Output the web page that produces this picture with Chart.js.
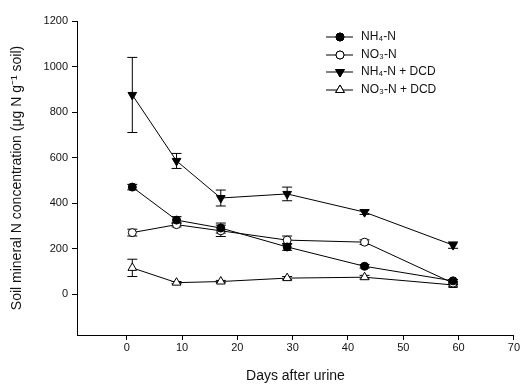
<!DOCTYPE html>
<html>
<head>
<meta charset="utf-8">
<script src="https://cdn.jsdelivr.net/npm/chart.js@4"></script>
<style>
  html, body { margin: 0; padding: 0; background: #fff; }
  #wrap { width: 521px; height: 385px; }
</style>
</head>
<body>
<div id="wrap"><canvas id="chart" width="521" height="385"></canvas></div>
<script>
// days after urine
const days = [1, 9, 17, 29, 43, 59];

const nh4 = [470, 325, 290, 207, 122, 58];
const nh4Err = [12, 15, 22, 15, 8, 6];
const no3 = [270, 305, 278, 237, 228, 48];
const no3Err = [15, 10, 25, 18, 10, 6];
const nh4Dcd = [875, 585, 422, 440, 360, 215];
const nh4DcdErr = [165, 33, 35, 30, 10, 14];
const no3Dcd = [115, 50, 55, 70, 74, 40];
const no3DcdErr = [38, 5, 5, 7, 8, 5];

const xTicks = [0, 10, 20, 30, 40, 50, 60, 70];
const yTicks = [0, 200, 400, 600, 800, 1000, 1200];

const labels = ["NH₄-N", "NO₃-N", "NH₄-N + DCD", "NO₃-N + DCD"];

function toPoints(ys) {
  return days.map((d, i) => ({ x: d, y: ys[i] }));
}

const series = [
  { label: labels[0], data: nh4, err: nh4Err, style: "circle", fill: "#000", rot: 0, r: 4 },
  { label: labels[1], data: no3, err: no3Err, style: "circle", fill: "#fff", rot: 0, r: 4 },
  { label: labels[2], data: nh4Dcd, err: nh4DcdErr, style: "triangle", fill: "#000", rot: 180, r: 5 },
  { label: labels[3], data: no3Dcd, err: no3DcdErr, style: "triangle", fill: "#fff", rot: 0, r: 5 },
];

// error bars drawn before the points
const errorBars = {
  id: "errorBars",
  beforeDatasetsDraw(chart) {
    const ctx = chart.ctx;
    const xs = chart.scales.x, ys = chart.scales.y;
    ctx.save();
    ctx.strokeStyle = "#000";
    ctx.lineWidth = 1;
    series.forEach((s) => {
      s.data.forEach((v, i) => {
        const px = xs.getPixelForValue(days[i]);
        const top = ys.getPixelForValue(v + s.err[i]);
        const bot = ys.getPixelForValue(v - s.err[i]);
        ctx.beginPath();
        ctx.moveTo(px, top); ctx.lineTo(px, bot);
        ctx.moveTo(px - 5, top); ctx.lineTo(px + 5, top);
        ctx.moveTo(px - 5, bot); ctx.lineTo(px + 5, bot);
        ctx.stroke();
      });
    });
    ctx.restore();
  },
};

// legend with line through the marker
const legendBox = {
  id: "legendBox",
  afterDraw(chart) {
    const ctx = chart.ctx;
    ctx.save();
    ctx.font = "12px 'Liberation Sans', Arial, sans-serif";
    ctx.textBaseline = "middle";
    const rows = [37, 55, 72, 90];
    series.forEach((s, i) => {
      const y = rows[i];
      ctx.strokeStyle = "#000";
      ctx.lineWidth = 1;
      ctx.beginPath();
      ctx.moveTo(326, y); ctx.lineTo(353, y);
      ctx.stroke();
      ctx.fillStyle = s.fill;
      Chart.helpers.drawPoint(ctx, { pointStyle: s.style, radius: s.r, rotation: s.rot, borderWidth: 1 }, 340, y);
      ctx.fill();
      ctx.stroke();
      ctx.fillStyle = "#111";
      ctx.fillText(s.label, 361, y);
    });
    ctx.restore();
  },
};

const axisFont = { family: "'Liberation Sans', Arial, sans-serif", size: 11 };
const titleFont = { family: "'Liberation Sans', Arial, sans-serif", size: 14 };

new Chart(document.getElementById("chart"), {
  type: "line",
  data: {
    datasets: series.map((s) => ({
      label: s.label,
      data: toPoints(s.data),
      borderColor: "#000",
      borderWidth: 1,
      pointStyle: s.style,
      pointRotation: s.rot,
      pointRadius: s.r,
      pointBackgroundColor: s.fill,
      pointBorderColor: "#000",
      pointBorderWidth: 1,
      tension: 0,
    })),
  },
  options: {
    responsive: false,
    animation: false,
    layout: { padding: { top: 21, right: 0, left: 0, bottom: 0 } },
    plugins: { legend: { display: false }, tooltip: { enabled: false } },
    scales: {
      x: {
        type: "linear",
        min: -9,
        max: 70,
        afterBuildTicks: (scale) => { scale.ticks = xTicks.map((v) => ({ value: v })); },
        afterFit: (scale) => { scale.height = 50; },
        border: { display: true, color: "#000", width: 1 },
        grid: { display: true, drawOnChartArea: false, drawTicks: true, tickLength: 5, color: "#000" },
        ticks: { color: "#111", font: axisFont, padding: 1, maxRotation: 0 },
        title: { display: true, text: "Days after urine", color: "#111", font: titleFont, padding: { top: 8, bottom: 0 } },
      },
      y: {
        type: "linear",
        min: -180,
        max: 1200,
        afterBuildTicks: (scale) => { scale.ticks = yTicks.map((v) => ({ value: v })); },
        afterFit: (scale) => { scale.width = 77; },
        border: { display: true, color: "#000", width: 1 },
        grid: { display: true, drawOnChartArea: false, drawTicks: true, tickLength: 5, color: "#000" },
        ticks: { color: "#111", font: axisFont, padding: 4, callback: (v) => String(v) },
        title: { display: true, text: "Soil mineral N concentration (μg N g⁻¹ soil)", color: "#111", font: titleFont, padding: { top: 9, bottom: 0 } },
      },
    },
  },
  plugins: [errorBars, legendBox],
});
</script>
</body>
</html>
